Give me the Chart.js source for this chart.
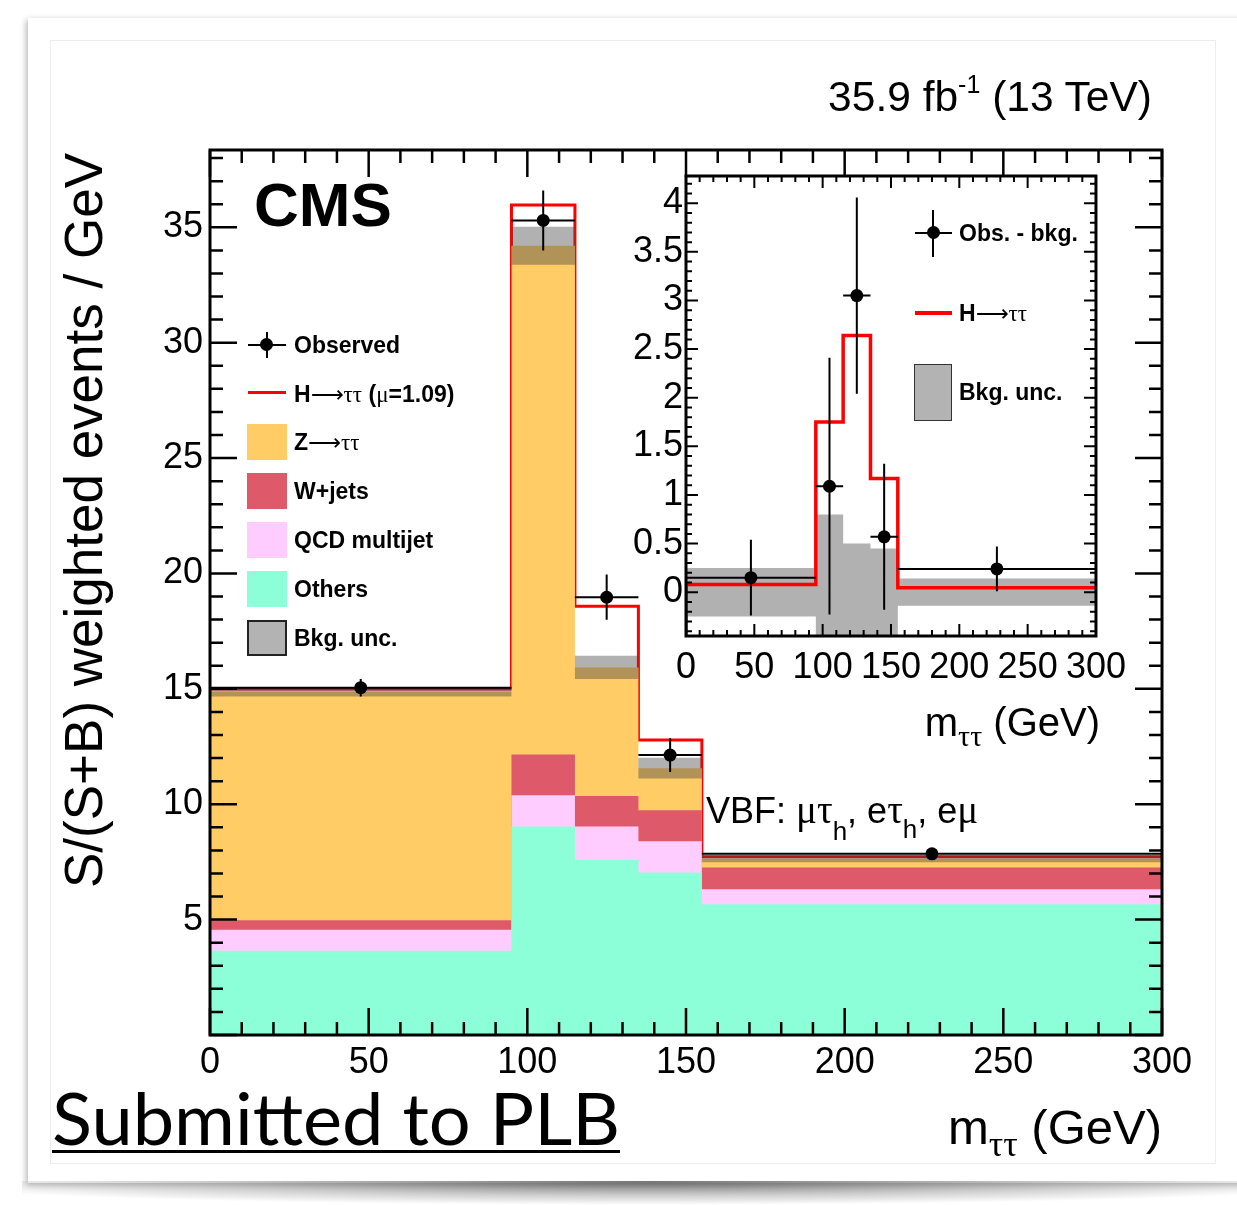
<!DOCTYPE html>
<html>
<head>
<meta charset="utf-8">
<script src="https://cdn.jsdelivr.net/npm/chart.js@4.4.1/dist/chart.umd.min.js"></script>
<style>
  html, body { margin: 0; padding: 0; background: #fff; }
  body { width: 1237px; height: 1205px; position: relative; overflow: hidden;
         font-family: "Liberation Sans", Arial, sans-serif; color: #000; }
  .abs { position: absolute; white-space: nowrap; line-height: 1; }
  .sym { font-family: "Liberation Serif", "DejaVu Serif", serif; font-weight: normal; }
  .arr { font-family: "DejaVu Sans", sans-serif; font-weight: normal; }
  .leg { font-size: 23px; font-weight: bold; }
  .box { position: absolute; box-sizing: border-box; }
  canvas { position: absolute; }
</style>
</head>
<body>
<div class="box" style="left:28px;top:18px;width:1230px;height:1165px;background:#fff;box-shadow:-2px 2px 6px rgba(0,0,0,0.28);"></div>
<div class="box" style="left:22px;top:1181px;width:1240px;height:24px;background:radial-gradient(ellipse 60% 100% at 50% 0%, rgba(80,80,80,0.8), rgba(130,130,130,0.4) 60%, rgba(255,255,255,0) 100%);"></div>
<div class="box" style="left:50px;top:40px;width:1166px;height:1124px;border:1px solid #ededed;"></div>

<canvas id="main" width="1237" height="1205" style="left:0;top:0"></canvas>
<canvas id="inset" width="560" height="560" style="left:580px;top:150px"></canvas>

<!-- annotations -->
<div class="abs" style="right:85px;top:76px;font-size:42.5px;">35.9 fb<span style="font-size:25px;position:relative;top:-18px">-1</span> (13 TeV)</div>
<div class="abs" style="left:254px;top:174px;font-size:62px;font-weight:bold;">CMS</div>
<div class="abs" style="left:57px;top:888px;font-size:53px;transform-origin:0 0;transform:rotate(-90deg);">S/(S+B) weighted events / GeV</div>
<div class="abs" style="right:75px;top:1103px;font-size:49px;">m<span class="sym" style="font-size:36px;position:relative;top:12px">ττ</span> (GeV)</div>
<div class="abs" style="right:137px;top:702px;font-size:40px;">m<span class="sym" style="font-size:30px;position:relative;top:10px">ττ</span> (GeV)</div>
<div class="abs" style="left:706px;top:790px;font-size:36px;">VBF: <span class="sym" style="font-size:39px">μτ</span><span style="font-size:26px;position:relative;top:17px">h</span>, e<span class="sym" style="font-size:39px">τ</span><span style="font-size:26px;position:relative;top:15px">h</span>, e<span class="sym" style="font-size:39px">μ</span></div>
<div id="plb" class="abs" style="left:52px;top:1081px;font-size:72px;font-family:Lato,'Noto Sans',sans-serif;transform-origin:0 0;">Submitted to PLB</div>
<div class="box" style="left:52px;top:1150px;width:568px;height:3px;background:#000;"></div>

<!-- main legend -->
<div class="box" style="left:248px;top:344px;width:38px;height:2px;background:#000;"></div>
<div class="box" style="left:266px;top:332px;width:2px;height:26px;background:#000;"></div>
<div class="box" style="left:260px;top:338px;width:13px;height:13px;border-radius:50%;background:#000;"></div>
<div class="abs leg" style="left:294px;top:334px;">Observed</div>
<div class="box" style="left:248px;top:391px;width:38px;height:3px;background:#ff0000;"></div>
<div class="abs leg" style="left:294px;top:383px;">H<span class="arr">⟶</span><span class="sym">ττ</span> (<span class="sym">μ</span>=1.09)</div>
<div class="box" style="left:247px;top:424px;width:40px;height:36px;background:#ffcc66;"></div>
<div class="abs leg" style="left:294px;top:431px;">Z<span class="arr">⟶</span><span class="sym">ττ</span></div>
<div class="box" style="left:247px;top:473px;width:40px;height:36px;background:#de5a6a;"></div>
<div class="abs leg" style="left:294px;top:480px;">W+jets</div>
<div class="box" style="left:247px;top:522px;width:40px;height:36px;background:#ffccff;"></div>
<div class="abs leg" style="left:294px;top:529px;">QCD multijet</div>
<div class="box" style="left:247px;top:571px;width:40px;height:36px;background:#8dffd8;"></div>
<div class="abs leg" style="left:294px;top:578px;">Others</div>
<div class="box" style="left:247px;top:620px;width:40px;height:36px;background:#b3b3b3;border:2px solid #222;"></div>
<div class="abs leg" style="left:294px;top:627px;">Bkg. unc.</div>

<!-- inset legend -->
<div class="box" style="left:915px;top:232px;width:37px;height:2px;background:#000;"></div>
<div class="box" style="left:932px;top:210px;width:2px;height:47px;background:#000;"></div>
<div class="box" style="left:927px;top:226px;width:13px;height:13px;border-radius:50%;background:#000;"></div>
<div class="abs leg" style="left:959px;top:222px;">Obs. - bkg.</div>
<div class="box" style="left:915px;top:311px;width:37px;height:3.5px;background:#ff0000;"></div>
<div class="abs leg" style="left:959px;top:302px;">H<span class="arr">⟶</span><span class="sym">ττ</span></div>
<div class="box" style="left:914px;top:364px;width:38px;height:57px;background:#b3b3b3;border:1.5px solid #333;"></div>
<div class="abs leg" style="left:959px;top:381px;">Bkg. unc.</div>

<script>
// bins in m_tautau (GeV)
const binEdges = [0, 95, 115, 135, 155, 300];

// main plot: S/(S+B) weighted events / GeV
const others = [3.65, 9.03, 7.58, 7.04, 5.67];
const qcd = [0.91, 1.36, 1.45, 1.36, 0.65];
const wjets = [0.41, 1.77, 1.33, 1.34, 0.94];
const ztt = [9.90, 22.04, 5.57, 1.82, 0.38];
const higgs = [0.12, 1.77, 2.65, 1.22, 0.08];
const bkgUnc = [0.20, 0.82, 0.50, 0.45, 0.15];
const observed = [15.05, 35.30, 18.97, 12.13, 7.85];
const observedErr = [0.38, 1.30, 0.98, 0.73, 0.20];

// inset: observed - background
const insetObs = [0.15, 1.09, 3.05, 0.57, 0.24];
const insetObsErr = [0.39, 1.32, 1.01, 0.75, 0.23];
const insetHiggs = [0.08, 1.75, 2.64, 1.17, 0.045];
const insetUnc = [0.25, 0.80, 0.50, 0.45, 0.14];

// axis ranges and tick labels
const mainYMax = 38.35;
const insetYMin = -0.45;
const insetYMax = 4.28;
const mainXTickLabels = [0, 50, 100, 150, 200, 250, 300];
const mainYTickLabels = [5, 10, 15, 20, 25, 30, 35];
const insetXTickLabels = [0, 50, 100, 150, 200, 250, 300];
const insetYTickLabels = [0, 0.5, 1, 1.5, 2, 2.5, 3, 3.5, 4];

const colors = {
    ztt: '#ffcc66',
    wjets: '#de5a6a',
    qcd: '#ffccff',
    others: '#8dffd8',
    unc: 'rgba(70,70,70,0.42)',
    higgs: '#ff0000'
};

// histogram as step line: a point at each low edge plus the last high edge
function stepData(values) {
    const pts = values.map((v, i) => ({ x: binEdges[i], y: v }));
    pts.push({ x: binEdges[binEdges.length - 1], y: values[values.length - 1] });
    return pts;
}

function addUp(...arrs) {
    return arrs[0].map((_, i) => arrs.reduce((s, a) => s + a[i], 0));
}

// crosses: full bin width horizontally, +-err vertically
function errorBars(vals, errs) {
    const pts = [];
    vals.forEach((v, i) => {
        const lo = binEdges[i], hi = binEdges[i + 1], c = (lo + hi) / 2;
        pts.push({ x: lo, y: v }, { x: hi, y: v }, { x: c, y: null });
        pts.push({ x: c, y: v - errs[i] }, { x: c, y: v + errs[i] }, { x: c, y: null });
    });
    return pts;
}

function centers(vals) {
    return vals.map((v, i) => ({ x: (binEdges[i] + binEdges[i + 1]) / 2, y: v }));
}

function tickCb(labels) {
    return (v) => labels.some(l => Math.abs(l - v) < 1e-6) ? String(Math.round(v * 10) / 10) : '';
}

// ROOT style frame with inward ticks on all four sides
const rootFrame = {
    id: 'rootFrame',
    afterDatasetsDraw(chart, args, o) {
        const { ctx, chartArea: a } = chart;
        const sx = chart.scales.x, sy = chart.scales.y;
        ctx.save();
        ctx.strokeStyle = '#000';
        ctx.lineWidth = o.tickWidth;
        const ticks = (scale, major, minor, horizontal) => {
            const per = Math.round(major / minor);
            const k0 = Math.ceil(scale.min / minor - 1e-9), k1 = Math.floor(scale.max / minor + 1e-9);
            for (let k = k0; k <= k1; k++) {
                const p = scale.getPixelForValue(k * minor);
                const len = k % per === 0 ? o.majorLen : o.minorLen;
                ctx.beginPath();
                if (horizontal) {
                    ctx.moveTo(p, a.bottom); ctx.lineTo(p, a.bottom - len);
                    ctx.moveTo(p, a.top); ctx.lineTo(p, a.top + len);
                } else {
                    ctx.moveTo(a.left, p); ctx.lineTo(a.left + len, p);
                    ctx.moveTo(a.right, p); ctx.lineTo(a.right - len, p);
                }
                ctx.stroke();
            }
        };
        ticks(sx, o.xMajor, o.xMinor, true);
        ticks(sy, o.yMajor, o.yMinor, false);
        ctx.lineWidth = o.frameWidth;
        ctx.strokeRect(a.left, a.top, a.right - a.left, a.bottom - a.top);
        ctx.restore();
    }
};

Chart.defaults.font.family = '"Liberation Sans", Arial, sans-serif';

function axisFont() {
    return { family: '"Liberation Sans", Arial, sans-serif', size: 36, lineHeight: 1 };
}

function baseOptions(p) {
    return {
        responsive: false,
        animation: false,
        devicePixelRatio: 1,
        events: [],
        layout: { padding: p.padding },
        elements: { point: { radius: 0 }, line: { tension: 0 } },
        plugins: {
            legend: { display: false },
            tooltip: { enabled: false },
            rootFrame: p.frame
        },
        scales: {
            x: {
                type: 'linear', min: 0, max: 300,
                grid: { display: false, drawTicks: false },
                border: { display: false },
                ticks: { stepSize: 50, autoSkip: false, maxRotation: 0, includeBounds: false,
                         padding: p.xPad, color: '#000', font: axisFont(), callback: tickCb(p.xLabels) },
                afterFit: s => { s.height = p.xHeight; }
            },
            y: {
                type: 'linear', min: p.yMin, max: p.yMax,
                grid: { display: false, drawTicks: false },
                border: { display: false },
                ticks: { stepSize: p.yStep, autoSkip: false, includeBounds: false,
                         padding: p.yPad, color: '#000', font: axisFont(), callback: tickCb(p.yLabels) },
                afterFit: s => { s.width = p.yWidth; }
            }
        }
    };
}

// ---- main plot ----
const topOthers = others;
const topQcd = addUp(others, qcd);
const topW = addUp(others, qcd, wjets);
const bkgTotal = addUp(others, qcd, wjets, ztt);
const sigTotal = addUp(bkgTotal, higgs);
const uncHi = bkgTotal.map((v, i) => v + bkgUnc[i]);
const uncLo = bkgTotal.map((v, i) => v - bkgUnc[i]);

new Chart(document.getElementById('main'), {
    type: 'line',
    data: {
        datasets: [
            { data: centers(observed), showLine: false, pointRadius: 6.5, pointBackgroundColor: '#000', pointBorderWidth: 0 },
            { data: errorBars(observed, observedErr), borderColor: '#000', borderWidth: 2, spanGaps: false },
            { data: stepData(uncHi), stepped: true, borderWidth: 0, fill: '+1', backgroundColor: colors.unc },
            { data: stepData(uncLo), stepped: true, borderWidth: 0, fill: false },
            { data: stepData(topOthers), stepped: true, borderWidth: 0, fill: 'origin', backgroundColor: colors.others },
            { data: stepData(topQcd), stepped: true, borderWidth: 0, fill: 'origin', backgroundColor: colors.qcd },
            { data: stepData(topW), stepped: true, borderWidth: 0, fill: 'origin', backgroundColor: colors.wjets },
            { data: stepData(bkgTotal), stepped: true, borderWidth: 0, fill: 'origin', backgroundColor: colors.ztt },
            { data: stepData(sigTotal), stepped: true, borderColor: colors.higgs, borderWidth: 3, fill: false }
        ]
    },
    options: baseOptions({
        padding: { left: 110, right: 75, top: 150, bottom: 110 },
        yMin: 0, yMax: mainYMax, yStep: 5, yWidth: 100, yPad: 7, yLabels: mainYTickLabels,
        xHeight: 60, xPad: 10, xLabels: mainXTickLabels,
        frame: { xMajor: 50, xMinor: 10, yMajor: 5, yMinor: 1, majorLen: 27, minorLen: 13, tickWidth: 2.5, frameWidth: 3 }
    }),
    plugins: [rootFrame]
});

// ---- inset: observed - background ----
const insetSig = [{ x: binEdges[0], y: insetYMin }].concat(stepData(insetHiggs));

new Chart(document.getElementById('inset'), {
    type: 'line',
    data: {
        datasets: [
            { data: centers(insetObs), showLine: false, pointRadius: 6.5, pointBackgroundColor: '#000', pointBorderWidth: 0 },
            { data: errorBars(insetObs, insetObsErr), borderColor: '#000', borderWidth: 2, spanGaps: false },
            { data: insetSig, stepped: true, borderColor: colors.higgs, borderWidth: 3.5, fill: false },
            { data: stepData(insetUnc), stepped: true, borderWidth: 0, fill: '+1', backgroundColor: 'rgba(70,70,70,0.42)' },
            { data: stepData(insetUnc.map(u => -u)), stepped: true, borderWidth: 0, fill: false }
        ]
    },
    options: baseOptions({
        padding: { left: 26, right: 40, top: 26, bottom: 24 },
        yMin: insetYMin, yMax: insetYMax, yStep: 0.5, yWidth: 80, yPad: 3, yLabels: insetYTickLabels,
        xHeight: 50, xPad: 14, xLabels: insetXTickLabels,
        frame: { xMajor: 50, xMinor: 10, yMajor: 0.5, yMinor: 0.1, majorLen: 12, minorLen: 6, tickWidth: 2, frameWidth: 3 }
    }),
    plugins: [rootFrame]
});

// stretch the footer text to the width it has in the figure
const plb = document.getElementById('plb');
plb.style.transform = `scaleX(${568 / plb.getBoundingClientRect().width})`;
</script>
</body>
</html>
